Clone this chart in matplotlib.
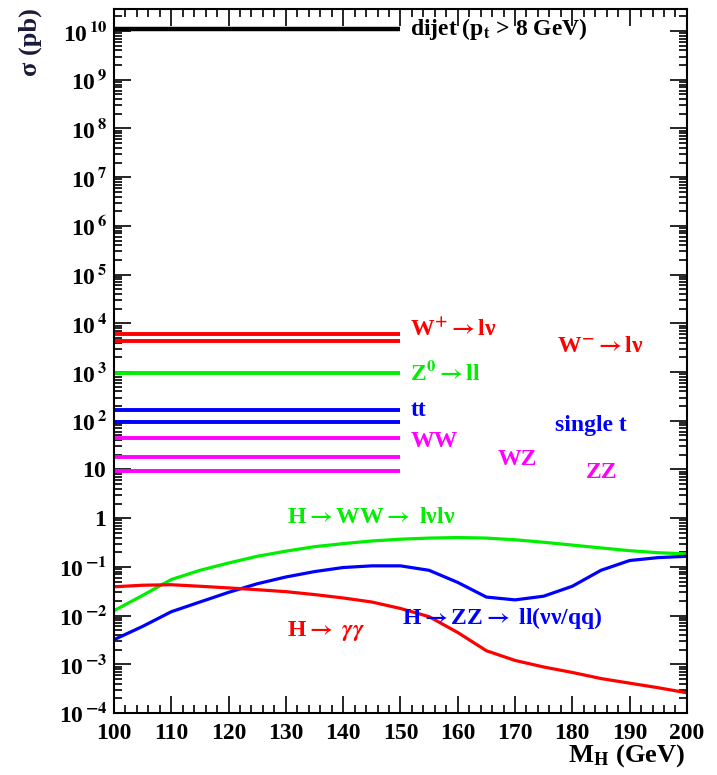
import numpy as np
import matplotlib.pyplot as plt
from matplotlib.ticker import LogLocator, MultipleLocator, FixedLocator, NullFormatter

plt.rcParams['font.family'] = ['Liberation Serif', 'DejaVu Serif']
plt.rcParams['font.weight'] = 'bold'
plt.rcParams['mathtext.fontset'] = 'stix'

# flat cross sections (pb), drawn from 100 to 150 GeV
flat_names = ['dijet', 'W+', 'W-', 'Z0', 'tt', 'single t', 'WW', 'WZ', 'ZZ']
flat_values = [1.1e10, 6.1e3, 4.3e3, 9.7e2, 1.67e2, 96, 45, 17.6, 9.2]
flat_colors = ['black', 'red', 'red', '#00ee00', 'blue', 'blue', 'magenta', 'magenta', 'magenta']

# Higgs channels vs M_H
mh = [100, 105, 110, 115, 120, 125, 130, 135, 140, 145, 150,
      155, 160, 165, 170, 175, 180, 185, 190, 195, 200]
h_ww = [0.0126, 0.026, 0.055, 0.085, 0.12, 0.165, 0.21, 0.26, 0.30, 0.34, 0.37,
        0.39, 0.40, 0.39, 0.36, 0.32, 0.28, 0.245, 0.215, 0.195, 0.185]
h_zz = [0.0032, 0.006, 0.012, 0.019, 0.030, 0.045, 0.062, 0.080, 0.097, 0.105, 0.105,
        0.085, 0.048, 0.024, 0.021, 0.025, 0.040, 0.085, 0.135, 0.155, 0.165]
h_gg = [0.039, 0.042, 0.043, 0.040, 0.037, 0.034, 0.031, 0.027, 0.023, 0.019, 0.014,
        0.0095, 0.0045, 0.0019, 0.0012, 0.00088, 0.00068, 0.00051, 0.00041, 0.00033, 0.00026]

fig = plt.figure(figsize=(7.17, 7.75), dpi=100)
ax = fig.add_axes([0.159, 0.080, 0.799, 0.908])

for v, c in zip(flat_values, flat_colors):
    ax.plot([100, 150], [v, v], color=c, lw=3.2 if c == 'black' else 2.8, solid_capstyle='butt')

ax.plot(mh, h_ww, color='#00ee00', lw=2.3)
ax.plot(mh, h_zz, color='blue', lw=2.3)
ax.plot(mh, h_gg, color='red', lw=2.3)

ax.set_yscale('log')
ax.set_xlim(100, 200)
ax.set_ylim(1e-4, 2.8e10)

fs = 17
arr = '$\\rightarrow$'
ax.text(151.7, 1.1e10, 'dijet (p$_\\mathbf{t}$ > 8 GeV)', color='black', fontsize=fs, va='center')
ax.text(151.7, 7.5e3, 'W$^\\mathbf{+}$' + arr + 'l\u03bd', color='red', fontsize=fs, va='center')
ax.text(177.4, 3.4e3, 'W$^\\mathbf{-}$' + arr + 'l\u03bd', color='red', fontsize=fs, va='center')
ax.text(151.7, 9.7e2, 'Z$^\\mathbf{0}$' + arr + 'll', color='#00ee00', fontsize=fs, va='center')
ax.text(151.7, 1.6e2, 'tt', color='blue', fontsize=fs, va='center')
ax.text(177.0, 80, 'single t', color='blue', fontsize=fs, va='center')
ax.text(151.7, 37, 'WW', color='magenta', fontsize=fs, va='center')
ax.text(167.0, 16, 'WZ', color='magenta', fontsize=fs, va='center')
ax.text(182.3, 8.7, 'ZZ', color='magenta', fontsize=fs, va='center')
ax.text(130.2, 1.05, 'H' + arr + 'WW' + arr + ' l\u03bdl\u03bd', color='#00ee00', fontsize=fs, va='center')
ax.text(130.2, 0.0049, 'H' + arr + ' $\\gamma\\gamma$', color='red', fontsize=fs, va='center')
ax.text(150.3, 0.0091, 'H' + arr + 'ZZ' + arr + ' ll(\u03bd\u03bd/qq)', color='blue', fontsize=fs, va='center')

# axes styling in ROOT manner
ax.xaxis.set_major_locator(MultipleLocator(10))
ax.xaxis.set_minor_locator(MultipleLocator(2))
ax.yaxis.set_major_locator(FixedLocator([10.0 ** k for k in range(-4, 11)]))
ax.yaxis.set_minor_locator(LogLocator(base=10, subs=np.arange(2, 10), numticks=30))
ax.yaxis.set_minor_formatter(NullFormatter())
ylabels = []
for k in range(-4, 11):
    if k == 0:
        ylabels.append('1$\\enspace\\,$')
    elif k == 1:
        ylabels.append('10$\\enspace\\,$')
    else:
        ylabels.append('10$^{\\,\\mathbf{%d}}$' % k)
ax.set_yticklabels(ylabels)
ax.tick_params(which='both', direction='in', top=True, right=True, width=1.2, labelsize=17)
ax.tick_params(which='major', length=12)
ax.tick_params(which='minor', length=6)
ax.tick_params(axis='x', pad=7)
ax.tick_params(axis='y', pad=5)
for s in ax.spines.values():
    s.set_linewidth(1.5)

fig.text(0.042, 0.99, '\u03c3 (pb)', rotation=90, ha='center', va='top', fontsize=19, color='#1a1a3a')
fig.text(0.955, 0.008, 'M$_\\mathbf{H}$ (GeV)', ha='right', va='bottom', fontsize=19)

fig.savefig('out.png', dpi=100)
